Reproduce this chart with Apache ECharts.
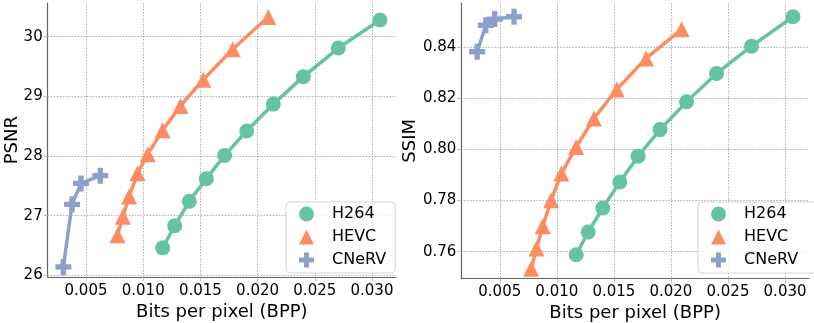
<!DOCTYPE html>
<html>
<head>
<meta charset="utf-8">
<script src="https://cdn.jsdelivr.net/npm/echarts@6/dist/echarts.min.js"></script>
<style>
  html, body { margin: 0; padding: 0; background: #fff; }
  #chart { width: 814px; height: 323px; }
</style>
</head>
<body>
<div id="chart"></div>
<script>
// values
var bppH264 = [0.0117, 0.01275, 0.01403, 0.01552, 0.01712, 0.01905, 0.02137, 0.024, 0.02706, 0.0307]
var psnrH264 = [26.46, 26.83, 27.24, 27.62, 28.01, 28.42, 28.87, 29.33, 29.81, 30.28]
var ssimH264 = [0.7588, 0.7677, 0.7771, 0.7873, 0.7974, 0.8078, 0.8187, 0.8298, 0.8405, 0.852]

var bppHevc = [0.00775, 0.00822, 0.00877, 0.0095, 0.0104, 0.0117, 0.01325, 0.01525, 0.01782, 0.02093]
var psnrHevc = [26.67, 26.98, 27.32, 27.71, 28.03, 28.43, 28.84, 29.28, 29.79, 30.33]
var ssimHevc = [0.7533, 0.7612, 0.7699, 0.7801, 0.7906, 0.801, 0.8122, 0.8235, 0.8357, 0.8471]

var bppCnerv = [0.00302, 0.00378, 0.00456, 0.00625]
var psnrCnerv = [26.14, 27.19, 27.54, 27.67]
var ssimCnerv = [0.8383, 0.8487, 0.8511, 0.852]

var seriesNames = ['H264', 'HEVC', 'CNeRV']

// tick labels
var bppTicks = [0.005, 0.010, 0.015, 0.020, 0.025, 0.030]
var psnrTicks = [26, 27, 28, 29, 30]
var ssimTicks = [0.76, 0.78, 0.80, 0.82, 0.84]

var colors = ['#66c2a5', '#fc8d62', '#8da0cb']
var plusPath = 'path://M5,0H10V5H15V10H10V15H5V10H0V5H5Z'
var symbols = ['circle', 'triangle', plusPath]
var symbolSizes = [15, 16, 16]
var font = 'DejaVu Sans'

function pairs(xs, ys) {
  return xs.map(function(x, i) { return [x, ys[i]] })
}

function xAxis(gridIndex, min) {
  return {
    type: 'value', gridIndex: gridIndex, min: min, max: 0.0321,
    name: 'Bits per pixel (BPP)', nameLocation: 'middle', nameGap: 19,
    nameTextStyle: { fontFamily: font, fontSize: 18, color: '#000' },
    axisLine: { lineStyle: { color: '#666', width: 1.2 } },
    axisTick: { show: true, length: 4, customValues: bppTicks, lineStyle: { color: '#bbb' } },
    axisLabel: {
      customValues: bppTicks, margin: 6, fontFamily: font, fontSize: 15, color: '#000',
      formatter: function(v) { return v.toFixed(3) }
    },
    splitLine: { show: true, lineStyle: { color: '#999', width: 0.8, type: [1.5, 1.5] } }
  }
}

function yAxis(gridIndex, min, max, ticks, name, nameGap, digits) {
  return {
    type: 'value', gridIndex: gridIndex, min: min, max: max,
    name: name, nameLocation: 'middle', nameGap: nameGap, nameMoveOverlap: false,
    nameTextStyle: { fontFamily: font, fontSize: 18, color: '#000' },
    axisLine: { show: true, lineStyle: { color: '#666', width: 1.2 } },
    axisTick: { show: true, length: 4, customValues: ticks, lineStyle: { color: '#bbb' } },
    axisLabel: {
      customValues: ticks, margin: 5, fontFamily: font, fontSize: 15, color: '#000',
      formatter: function(v) { return v.toFixed(digits) }
    },
    splitLine: { show: true, lineStyle: { color: '#999', width: 0.8, type: [1.5, 1.5] } }
  }
}

function makeSeries(idx, data, axisIndex) {
  return {
    name: seriesNames[idx], type: 'line', xAxisIndex: axisIndex, yAxisIndex: axisIndex,
    data: data, symbol: symbols[idx], symbolSize: symbolSizes[idx],
    showAllSymbol: true, animation: false,
    lineStyle: { color: colors[idx], width: 3.5 },
    itemStyle: { color: colors[idx] }
  }
}

function legend(left, padRight) {
  return {
    orient: 'vertical', left: left, top: 202,
    padding: [4, padRight, 5, 13],
    itemWidth: 15, itemHeight: 15, itemGap: 7,
    backgroundColor: 'rgba(255,255,255,0.85)',
    borderColor: '#d4d4d4', borderWidth: 1, borderRadius: 4,
    data: seriesNames.map(function(n, i) { return { name: n, icon: symbols[i] } }),
    textStyle: { fontFamily: font, fontSize: 16, color: '#000', padding: [0, 0, 0, 13] }
  }
}

var chart = echarts.init(document.getElementById('chart'))
chart.setOption({
  animation: false,
  color: colors,
  // fixed plot boxes, no auto shrinking for labels
  grid: [
    { left: 47.7, top: 3, width: 348.3, height: 274.3, outerBoundsMode: 'none' },
    { left: 461.3, top: 3, width: 347.7, height: 275.7, outerBoundsMode: 'none' }
  ],
  xAxis: [xAxis(0, 0.00165), xAxis(1, 0.00163)],
  yAxis: [
    yAxis(0, 25.966, 30.565, psnrTicks, 'PSNR', 26, 0),
    yAxis(1, 0.7494, 0.8574, ssimTicks, 'SSIM', 42, 2)
  ],
  legend: [legend(286, 9), legend(698, 19)],
  series: [
    makeSeries(0, pairs(bppH264, psnrH264), 0),
    makeSeries(1, pairs(bppHevc, psnrHevc), 0),
    makeSeries(2, pairs(bppCnerv, psnrCnerv), 0),
    makeSeries(0, pairs(bppH264, ssimH264), 1),
    makeSeries(1, pairs(bppHevc, ssimHevc), 1),
    makeSeries(2, pairs(bppCnerv, ssimCnerv), 1)
  ]
})
</script>
</body>
</html>
